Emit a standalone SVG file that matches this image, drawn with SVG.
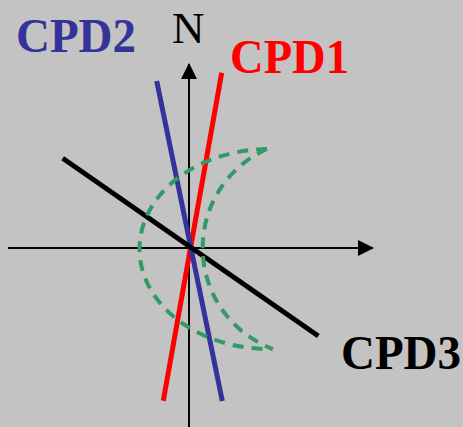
<svg xmlns="http://www.w3.org/2000/svg" width="463" height="427" viewBox="0 0 463 427">
  <defs>
    <style>
      .axis { stroke: #000; stroke-width: 2; fill: none; }
      .lbl { font-family: "Liberation Serif", "Times New Roman", serif; font-weight: bold; font-size: 48px; }
      .cpd { stroke-width: 5; fill: none; stroke-linecap: butt; }
      .arc { stroke: #339966; stroke-width: 4; fill: none; stroke-dasharray: 11 8; }
    </style>
    <marker id="arrow" viewBox="0 0 16 16" refX="15" refY="8" markerWidth="16" markerHeight="16" markerUnits="userSpaceOnUse" orient="auto">
      <path d="M0,0 L16,8 L0,16 Z" fill="#000"/>
    </marker>
  </defs>
  <rect x="0" y="0" width="463" height="427" fill="#c3c3c3"/>

  <g id="connectors">
    <line id="axis-n" class="axis" x1="189" y1="427" x2="189" y2="64" marker-end="url(#arrow)"/>
    <line id="axis-e" class="axis" x1="8" y1="248" x2="373" y2="248" marker-end="url(#arrow)"/>
  </g>

  <g id="cpd1-line"><line class="cpd" stroke="#ff0000" x1="221.7" y1="72.7" x2="163.3" y2="400.7"/></g>
  <g id="cpd2-line"><line class="cpd" stroke="#333399" x1="156.7" y1="81" x2="222.3" y2="401"/></g>
  <g id="cpd3-line"><line class="cpd" stroke="#000000" stroke-width="5.5" x1="62.7" y1="158.3" x2="318.3" y2="336"/></g>

  <g id="crescent">
    <path class="arc" d="M 267 149 A 130 100 0 0 0 272 349"/>
    <path class="arc" d="M 267 149 A 108 108 0 0 0 273 349"/>
  </g>

  <g id="label-n"><text x="172" y="43" font-family="Liberation Serif, 'Times New Roman', serif" font-size="45" fill="#000">N</text></g>
  <g id="label-cpd2"><text class="lbl" x="16" y="52" fill="#333399" textLength="120" lengthAdjust="spacingAndGlyphs">CPD2</text></g>
  <g id="label-cpd1"><text class="lbl" x="230" y="73" fill="#ff0000" textLength="119" lengthAdjust="spacingAndGlyphs">CPD1</text></g>
  <g id="label-cpd3"><text class="lbl" x="341" y="369" fill="#000000" textLength="120" lengthAdjust="spacingAndGlyphs">CPD3</text></g>
</svg>
